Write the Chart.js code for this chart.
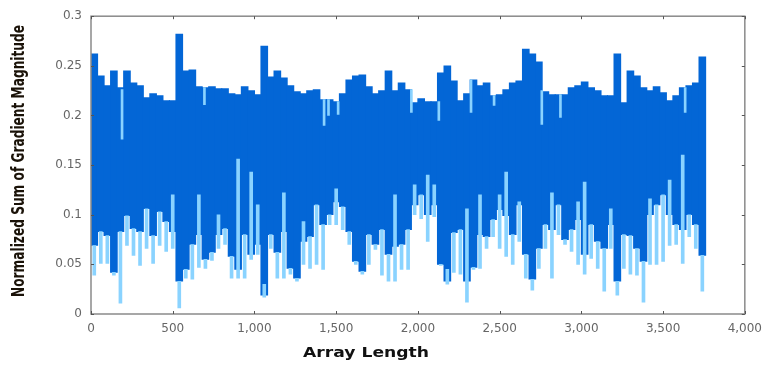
<!DOCTYPE html>
<html>
<head>
<meta charset="utf-8">
<script src="https://cdn.jsdelivr.net/npm/chart.js@4.4.1/dist/chart.umd.min.js"></script>
<style>
  html, body { margin: 0; padding: 0; background: #fff; }
  #wrap { width: 770px; height: 365px; }
</style>
</head>
<body>
<div id="wrap"><canvas id="gradChart"></canvas></div>
<script>
// bin centres along the array (40 wide)
var binX = [20, 60, 100, 140, 180, 220, 260, 300, 340, 380,
  420, 460, 500, 540, 580, 620, 660, 700, 740, 780,
  820, 860, 900, 940, 980, 1020, 1060, 1100, 1140, 1180,
  1220, 1260, 1300, 1340, 1380, 1420, 1460, 1500, 1540, 1580,
  1620, 1660, 1700, 1740, 1780, 1820, 1860, 1900, 1940, 1980,
  2020, 2060, 2100, 2140, 2180, 2220, 2260, 2300, 2340, 2380,
  2420, 2460, 2500, 2540, 2580, 2620, 2660, 2700, 2740, 2780,
  2820, 2860, 2900, 2940, 2980, 3020, 3060, 3100, 3140, 3180,
  3220, 3260, 3300, 3340, 3380, 3420, 3460, 3500, 3540, 3580,
  3620, 3660, 3700, 3740];

// top of each dark bar
var topVals = [0.262, 0.240, 0.230, 0.245, 0.228, 0.245, 0.233, 0.230, 0.218, 0.222,
  0.220, 0.215, 0.215, 0.282, 0.245, 0.246, 0.229, 0.228, 0.229, 0.227,
  0.227, 0.222, 0.221, 0.229, 0.225, 0.221, 0.270, 0.239, 0.245, 0.238,
  0.230, 0.224, 0.222, 0.225, 0.226, 0.216, 0.216, 0.214, 0.222, 0.236,
  0.240, 0.241, 0.229, 0.222, 0.225, 0.245, 0.225, 0.233, 0.226, 0.213,
  0.217, 0.214, 0.214, 0.243, 0.250, 0.235, 0.215, 0.222, 0.236, 0.230,
  0.233, 0.220, 0.221, 0.226, 0.233, 0.235, 0.267, 0.262, 0.254, 0.224,
  0.221, 0.221, 0.221, 0.228, 0.230, 0.234, 0.228, 0.225, 0.220, 0.220,
  0.262, 0.213, 0.245, 0.240, 0.228, 0.225, 0.229, 0.223, 0.215, 0.220,
  0.228, 0.230, 0.233, 0.259];

// bottom of each dark bar
var darkLow = [0.069, 0.083, 0.079, 0.042, 0.083, 0.099, 0.086, 0.083, 0.106, 0.079,
  0.103, 0.093, 0.083, 0.033, 0.045, 0.070, 0.080, 0.055, 0.062, 0.080,
  0.086, 0.058, 0.045, 0.080, 0.060, 0.070, 0.019, 0.080, 0.062, 0.083,
  0.046, 0.036, 0.073, 0.078, 0.110, 0.090, 0.100, 0.113, 0.108, 0.083,
  0.053, 0.043, 0.080, 0.070, 0.085, 0.060, 0.068, 0.070, 0.085, 0.110,
  0.120, 0.100, 0.110, 0.050, 0.033, 0.082, 0.085, 0.033, 0.047, 0.080,
  0.078, 0.095, 0.105, 0.099, 0.080, 0.110, 0.060, 0.035, 0.066, 0.090,
  0.085, 0.110, 0.075, 0.085, 0.095, 0.060, 0.090, 0.073, 0.066, 0.090,
  0.033, 0.080, 0.079, 0.066, 0.053, 0.100, 0.110, 0.120, 0.100, 0.090,
  0.085, 0.100, 0.090, 0.059];

// light spikes hanging below / poking into the dark band
var lightLow = [0.039, 0.051, 0.051, 0.039, 0.011, 0.069, 0.059, 0.049, 0.066, 0.051,
  0.069, 0.063, 0.066, 0.006, 0.036, 0.035, 0.047, 0.046, 0.054, 0.066,
  0.070, 0.036, 0.036, 0.036, 0.055, 0.060, 0.017, 0.066, 0.036, 0.036,
  0.040, 0.033, 0.050, 0.046, 0.050, 0.045, 0.090, 0.090, 0.085, 0.070,
  0.050, 0.040, 0.050, 0.065, 0.039, 0.033, 0.033, 0.045, 0.045, 0.100,
  0.096, 0.073, 0.098, 0.049, 0.030, 0.042, 0.040, 0.012, 0.045, 0.046,
  0.066, 0.078, 0.066, 0.058, 0.050, 0.073, 0.036, 0.024, 0.046, 0.066,
  0.036, 0.080, 0.070, 0.063, 0.050, 0.040, 0.056, 0.046, 0.023, 0.066,
  0.019, 0.046, 0.040, 0.039, 0.012, 0.050, 0.050, 0.053, 0.069, 0.070,
  0.051, 0.078, 0.066, 0.023];
var lightHigh = [0.069, 0.083, 0.079, 0.042, 0.083, 0.099, 0.086, 0.083, 0.106, 0.079,
  0.103, 0.093, 0.120, 0.033, 0.045, 0.070, 0.120, 0.055, 0.062, 0.100,
  0.086, 0.058, 0.156, 0.080, 0.143, 0.110, 0.030, 0.080, 0.062, 0.122,
  0.046, 0.036, 0.093, 0.078, 0.110, 0.090, 0.100, 0.126, 0.108, 0.083,
  0.053, 0.043, 0.080, 0.070, 0.085, 0.060, 0.120, 0.070, 0.085, 0.130,
  0.120, 0.140, 0.130, 0.050, 0.045, 0.082, 0.085, 0.106, 0.047, 0.120,
  0.078, 0.095, 0.120, 0.143, 0.080, 0.113, 0.060, 0.035, 0.066, 0.090,
  0.122, 0.110, 0.075, 0.085, 0.113, 0.133, 0.090, 0.073, 0.066, 0.106,
  0.033, 0.080, 0.079, 0.066, 0.053, 0.116, 0.110, 0.120, 0.135, 0.090,
  0.160, 0.100, 0.090, 0.059];

// light notches cutting down from the top edge
var notchX = [190, 694, 1426, 1453, 1512, 1960, 2128, 2325, 2466, 2758, 2872, 3635];
var notchLow = [0.176, 0.211, 0.190, 0.200, 0.201, 0.203, 0.195, 0.203, 0.210, 0.191, 0.198, 0.203];
var notchHigh = [0.226, 0.228, 0.216, 0.216, 0.214, 0.226, 0.214, 0.236, 0.220, 0.225, 0.221, 0.228];

var darkData = binX.map(function(x, i) { return { x: x, y: [darkLow[i], topVals[i]] }; });
var lightData = binX.map(function(x, i) { return { x: x, y: [lightLow[i], lightHigh[i]] }; });
var notchData = notchX.map(function(x, i) { return { x: x, y: [notchLow[i], notchHigh[i]] }; });

function stretchText(ctx, text, cx, cy, targetW) {
    var w = ctx.measureText(text).width;
    ctx.save();
    ctx.translate(cx, cy);
    ctx.scale(targetW / w, 1);
    ctx.fillText(text, 0, 0);
    ctx.restore();
}

var framePlugin = {
    id: 'frame',
    afterDraw: function(chart) {
        var ctx = chart.ctx, a = chart.chartArea;
        var xs = chart.scales.x, ys = chart.scales.y;
        ctx.save();
        ctx.strokeStyle = '#8a8a8a';
        ctx.lineWidth = 1.5;
        ctx.strokeRect(a.left, a.top, a.right - a.left, a.bottom - a.top);
        ctx.strokeStyle = '#555';
        ctx.lineWidth = 1;
        ctx.beginPath();
        xs.ticks.forEach(function(t) {
            var px = Math.round(xs.getPixelForValue(t.value)) + 0.5;
            ctx.moveTo(px, a.bottom); ctx.lineTo(px, a.bottom - 3);
            ctx.moveTo(px, a.top); ctx.lineTo(px, a.top + 3);
        });
        ys.ticks.forEach(function(t) {
            var py = Math.round(ys.getPixelForValue(t.value)) + 0.5;
            ctx.moveTo(a.left, py); ctx.lineTo(a.left + 3, py);
            ctx.moveTo(a.right, py); ctx.lineTo(a.right - 3, py);
        });
        ctx.stroke();

        ctx.fillStyle = '#111';
        ctx.textAlign = 'center';
        ctx.textBaseline = 'middle';
        ctx.font = 'bold 14px "DejaVu Sans"';
        stretchText(ctx, 'Array Length', 366, 353, 126);

        ctx.save();
        ctx.translate(19.5, 161);
        ctx.rotate(-Math.PI / 2);
        ctx.fillStyle = '#1a1208';
        ctx.font = 'bold 17px "Liberation Sans Narrow", "DejaVu Sans Condensed", sans-serif';
        stretchText(ctx, 'Normalized Sum of Gradient Magnitude', 0, 0, 272);
        ctx.restore();
        ctx.restore();
    }
};

var ctx = document.getElementById('gradChart').getContext('2d');
var gradChart = new Chart(ctx, {
    type: 'bar',
    data: {
        datasets: [{
            label: 'notches',
            data: notchData,
            backgroundColor: '#8ad3ff',
            barThickness: 2,
            grouped: false,
            order: 0
        }, {
            label: 'light',
            data: lightData,
            backgroundColor: '#8ad3ff',
            barThickness: 3,
            grouped: false,
            order: 1
        }, {
            label: 'dark',
            data: darkData,
            backgroundColor: '#0366d6',
            barThickness: 7,
            grouped: false,
            order: 2
        }]
    },
    options: {
        responsive: true,
        maintainAspectRatio: false,
        animation: false,
        layout: { padding: { top: 15, right: 22, left: 0, bottom: 0 } },
        plugins: {
            legend: { display: false },
            tooltip: { enabled: false }
        },
        scales: {
            x: {
                type: 'linear',
                min: 0,
                max: 4000,
                offset: false,
                grid: { display: false, drawTicks: false },
                border: { display: false },
                ticks: {
                    stepSize: 500,
                    padding: 8,
                    color: '#666',
                    font: { family: 'DejaVu Sans', size: 12 },
                    maxRotation: 0
                },
                afterFit: function(scale) { scale.height = 51; }
            },
            y: {
                min: 0,
                max: 0.3,
                grid: { display: false, drawTicks: false },
                border: { display: false },
                ticks: {
                    stepSize: 0.05,
                    padding: 9,
                    color: '#666',
                    font: { family: 'DejaVu Sans', size: 12 },
                    callback: function(v) { return String(+v.toFixed(2)); }
                },
                afterFit: function(scale) { scale.width = 91; }
            }
        }
    },
    plugins: [framePlugin]
});
</script>
</body>
</html>
